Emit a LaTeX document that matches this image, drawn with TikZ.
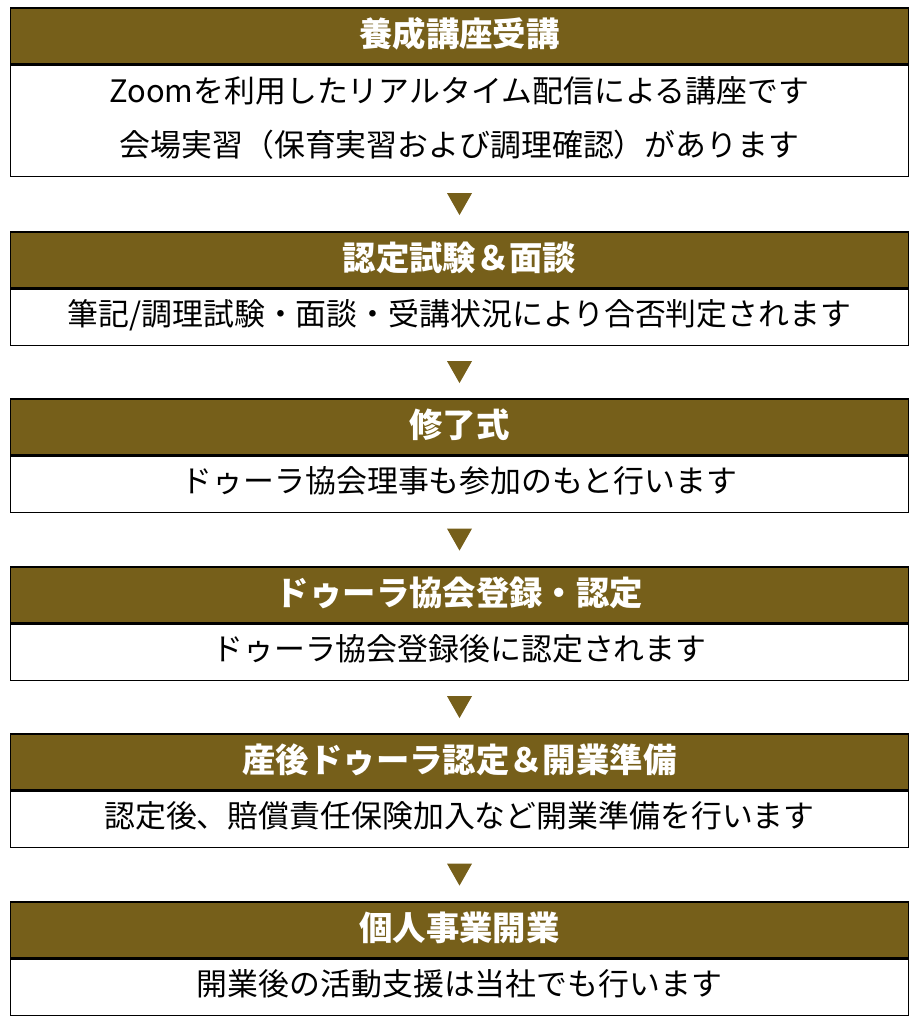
\documentclass[tikz,border=0pt]{standalone}
\usepackage{fontspec}
\setmainfont{Noto Sans CJK JP}
\usetikzlibrary{calc}
\definecolor{hdr}{RGB}{118,95,26}
\tikzset{
  x=1bp, y=-1bp,
  hbox/.style={draw=black, line width=1.6bp, fill=hdr, minimum width=898bp, minimum height=56bp, inner sep=0pt, anchor=north, text=white, text height=28bp, text depth=7bp, font=\fontsize{33.5}{38}\selectfont\bfseries},
  bbox/.style={draw=black, line width=1.6bp, fill=white, minimum width=898bp, minimum height=56bp, inner sep=0pt, anchor=north, text=black, align=center, text height=26bp, text depth=9bp, font=\fontsize{31}{55}\selectfont},
  tri/.style={fill=hdr}
}
\begin{document}
\begin{tikzpicture}
\useasboundingbox (0,0) rectangle (920,1024);
\node[hbox] (h1) at (459.5,7) {養成講座受講};
\node[bbox, minimum height=111bp, text height=81bp] (b1) at (h1.south) {Zoomを利用したリアルタイム配信による講座です\\会場実習（保育実習および調理確認）があります};
\node[hbox] (h2) at (459.5,231) {認定試験＆面談};
\node[bbox] (b2) at (h2.south) {筆記/調理試験・面談・受講状況により合否判定されます};
\node[hbox] (h3) at (459.5,398) {修了式};
\node[bbox] (b3) at (h3.south) {ドゥーラ協会理事も参加のもと行います};
\node[hbox] (h4) at (459.5,566) {ドゥーラ協会登録・認定};
\node[bbox] (b4) at (h4.south) {ドゥーラ協会登録後に認定されます};
\node[hbox] (h5) at (459.5,733) {産後ドゥーラ認定＆開業準備};
\node[bbox] (b5) at (h5.south) {認定後、賠償責任保険加入など開業準備を行います};
\node[hbox] (h6) at (459.5,901) {個人事業開業};
\node[bbox] (b6) at (h6.south) {開業後の活動支援は当社でも行います};
\foreach \a/\b/\n in {b1/h2/1, b2/h3/2, b3/h4/3, b4/h5/4, b5/h6/5} {
  \coordinate (m\n) at ($(\a.south)!0.5!(\b.north)$);
  \fill[tri] ($(m\n)+(-12.5,-11)$) -- ($(m\n)+(12.5,-11)$) -- ($(m\n)+(0,11)$) -- cycle;
}
\end{tikzpicture}
\end{document}
